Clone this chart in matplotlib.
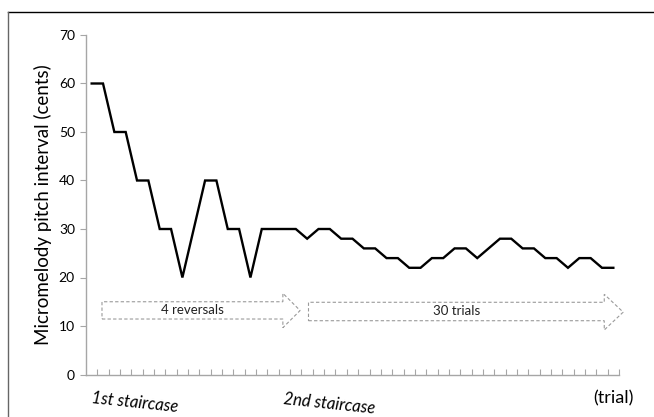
import numpy as np
import matplotlib.pyplot as plt
from matplotlib.patches import Polygon
from matplotlib.lines import Line2D

plt.rcParams['font.family'] = ['Lato', 'DejaVu Sans']

# staircase track, one value per trial (cents)
CENTS = [60, 60, 50, 50, 40, 40, 30, 30, 20, 30, 40, 40, 30, 30, 20, 30,
         30, 30, 30, 28, 30, 30, 28, 28, 26, 26, 24, 24, 22, 22, 24, 24,
         26, 26, 24, 26, 28, 28, 26, 26, 24, 24, 22, 24, 24, 22, 22]
Y_TICKS = [0, 10, 20, 30, 40, 50, 60, 70]
AXIS_GREY = '#a6a6a6'
DASH_GREY = '#9a9a9a'


def block_arrow(ax, x0, x1, xhead, ylo, yhi, yhlo, yhhi, label):
    ymid = (yhlo + yhhi) / 2
    pts = [(x0, ylo), (xhead, ylo), (xhead, yhlo), (x1, ymid),
           (xhead, yhhi), (xhead, yhi), (x0, yhi)]
    ax.add_patch(Polygon(pts, closed=True, fill=False, ec=DASH_GREY,
                         lw=0.8, ls=(0, (3, 2)), clip_on=False))
    ax.text((x0 + xhead) / 2, (ylo + yhi) / 2, label, ha='center',
            va='center', fontsize=9.5, color='#222222')


fig = plt.figure(figsize=(6.54, 4.17), dpi=100)
ax = fig.add_axes([86 / 654, 1 - 374.5 / 417, 533 / 654, 339.5 / 417])

x = np.arange(len(CENTS))
ax.plot(x, CENTS, color='black', lw=1.7, solid_joinstyle='miter')

ax.set_xlim(-0.5, len(CENTS) - 0.5)
ax.set_ylim(0, 70)
ax.set_yticks(Y_TICKS)
ax.set_xticks(np.arange(0.5, len(CENTS), 1.0))
ax.set_xticklabels([])
ax.tick_params(axis='x', direction='in', length=4, color=AXIS_GREY, width=0.8)
ax.tick_params(axis='y', direction='out', length=4, color=AXIS_GREY, width=0.8,
               labelsize=10, pad=4)
for side in ['top', 'right']:
    ax.spines[side].set_visible(False)
for side in ['left', 'bottom']:
    ax.spines[side].set_color(AXIS_GREY)
    ax.spines[side].set_linewidth(1.0)

ax.set_ylabel('Micromelody pitch interval (cents)', fontsize=13.5, labelpad=5)

block_arrow(ax, 0.91, 18.38, 16.86, 11.44, 15.0, 9.65, 16.74, '4 reversals')
block_arrow(ax, 19.12, 46.87, 45.2, 11.09, 14.89, 9.18, 16.54, '30 trials')

fig.text(92 / 654, 1 - 398 / 417, '1st staircase', style='italic', fontsize=12,
         rotation=-6, ha='left', va='center', rotation_mode='anchor')
fig.text(284 / 654, 1 - 399 / 417, '2nd staircase', style='italic', fontsize=12,
         rotation=-6, ha='left', va='center', rotation_mode='anchor')
fig.text(613 / 654, 1 - 398 / 417, '(trial)', fontsize=13, ha='center',
         va='center')

# outer frame (top and left edges only)
fig.add_artist(Line2D([8 / 654, 1], [1 - 12 / 417] * 2, color='black', lw=1.0))
fig.add_artist(Line2D([8 / 654] * 2, [0, 1 - 12 / 417], color='#666666', lw=1.0))

fig.savefig('out.png', dpi=100)
